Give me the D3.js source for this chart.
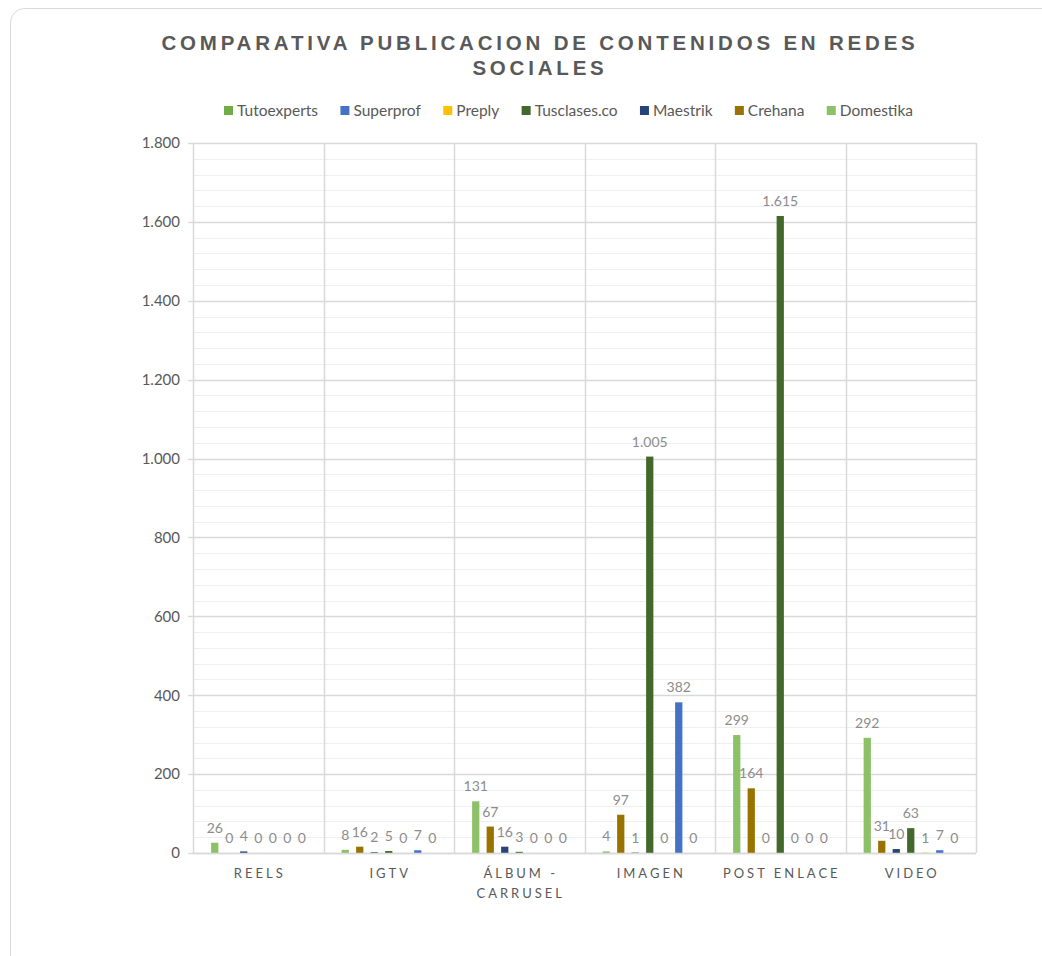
<!DOCTYPE html>
<html>
<head>
<meta charset="utf-8">
<script src="https://cdn.jsdelivr.net/npm/d3@7"></script>
<style>
  body { margin: 0; background: #fff; }
</style>
</head>
<body>
<div id="chart"></div>
<script>
// categories and series (order of the bars inside each group)
var categories = ["REELS", "IGTV", "ÁLBUM - CARRUSEL", "IMAGEN", "POST ENLACE", "VIDEO"];
var legendOrder = ["Tutoexperts", "Superprof", "Preply", "Tusclases.co", "Maestrik", "Crehana", "Domestika"];
var barOrder = ["Domestika", "Crehana", "Maestrik", "Tusclases.co", "Preply", "Superprof", "Tutoexperts"];
var colors = {
  "Tutoexperts": "#70AD47", "Superprof": "#4472C4", "Preply": "#FFC000",
  "Tusclases.co": "#43682B", "Maestrik": "#264478", "Crehana": "#997300", "Domestika": "#8CC168"
};
// values per category, same order as categories
var domestika   = [26, 8, 131, 4, 299, 292];
var crehana     = [0, 16, 67, 97, 164, 31];
var maestrik    = [4, 2, 16, 1, 0, 10];
var tusclases   = [0, 5, 3, 1005, 1615, 63];
var preply      = [0, 0, 0, 0, 0, 1];
var superprof   = [0, 7, 0, 382, 0, 7];
var tutoexperts = [0, 0, 0, 0, 0, 0];
var yTicks = [0, 200, 400, 600, 800, 1000, 1200, 1400, 1600, 1800];

var series = {
  "Domestika": domestika, "Crehana": crehana, "Maestrik": maestrik, "Tusclases.co": tusclases,
  "Preply": preply, "Superprof": superprof, "Tutoexperts": tutoexperts
};

var W = 1042, H = 956;
var margin = {top: 143, left: 193, right: 66, bottom: 103};
var width = W - margin.left - margin.right;
var height = H - margin.top - margin.bottom;

var locale = d3.formatLocale({decimal: ",", thousands: ".", grouping: [3], currency: ["", "€"]});
var fmt = locale.format(",d");

var root = d3.select("#chart").append("svg").attr("width", W).attr("height", H);

// card border
root.append("rect")
    .attr("x", 10.5).attr("y", 8.5)
    .attr("width", W + 20).attr("height", H + 20)
    .attr("rx", 14)
    .attr("fill", "#fff").attr("stroke", "#d9d9d9");

// title
var title = root.append("text")
    .attr("text-anchor", "middle")
    .style("font-family", "'Liberation Sans', Arial, sans-serif")
    .style("font-weight", "bold")
    .style("font-size", "20.5px")
    .style("letter-spacing", "3.8px")
    .attr("fill", "#595959");
title.append("tspan").attr("x", 540).attr("y", 50).text("COMPARATIVA PUBLICACION DE CONTENIDOS EN REDES");
title.append("tspan").attr("x", 540).attr("y", 75).text("SOCIALES");

var svg = root.append("g").attr("transform", "translate(" + margin.left + "," + margin.top + ")");

var x0 = d3.scaleBand().domain(categories).range([0, width]);
var x1 = d3.scaleBand().domain(barOrder).range([0, x0.bandwidth()])
    .paddingInner(0.5).paddingOuter(1.25);
var y = d3.scaleLinear().domain([0, 1800]).range([height, 0]);

// minor gridlines every 40
var minor = d3.range(0, 1801, 40).filter(function(v) { return v % 200 !== 0; });
svg.selectAll(".minor").data(minor).enter().append("line")
    .attr("x1", 0).attr("x2", width)
    .attr("y1", function(d) { return Math.round(y(d)) + 0.5; })
    .attr("y2", function(d) { return Math.round(y(d)) + 0.5; })
    .attr("stroke", "#efefef");

// major gridlines
svg.selectAll(".major").data(yTicks).enter().append("line")
    .attr("x1", -5).attr("x2", width)
    .attr("y1", function(d) { return Math.round(y(d)) + 0.5; })
    .attr("y2", function(d) { return Math.round(y(d)) + 0.5; })
    .attr("stroke", "#d9d9d9").attr("stroke-width", 1.5);

// vertical category lines
var bounds = categories.map(function(c) { return x0(c); }).concat([width]);
svg.selectAll(".vline").data(bounds).enter().append("line")
    .attr("x1", function(d) { return Math.round(d) + 0.5; })
    .attr("x2", function(d) { return Math.round(d) + 0.5; })
    .attr("y1", 0).attr("y2", height)
    .attr("stroke", "#d9d9d9").attr("stroke-width", 1.5);

// y axis labels
var yAxis = svg.append("g")
    .call(d3.axisLeft(y).tickValues(yTicks).tickFormat(fmt).tickSize(0).tickPadding(13));
yAxis.select(".domain").remove();
yAxis.selectAll("text")
    .style("font-family", "Lato").style("font-size", "15px").attr("fill", "#595959");

// x axis labels
var xAxis = svg.append("g")
    .attr("transform", "translate(0," + height + ")")
    .call(d3.axisBottom(x0).tickSize(0).tickPadding(0));
xAxis.select(".domain").remove();
xAxis.selectAll("text").remove();
xAxis.selectAll(".tick").each(function(d) {
  var t = d3.select(this).append("text")
      .attr("text-anchor", "middle")
      .style("font-family", "Lato").style("font-size", "13px")
      .style("letter-spacing", "3px")
      .attr("fill", "#595959");
  var lines = d === "ÁLBUM - CARRUSEL" ? ["ÁLBUM -", "CARRUSEL"] : [d];
  lines.forEach(function(l, i) {
    t.append("tspan").attr("x", 1.5).attr("y", 25 + i * 20).text(l);
  });
});

// bars
var groups = svg.selectAll(".grp").data(categories).enter().append("g")
    .attr("transform", function(c) { return "translate(" + x0(c) + ",0)"; });

groups.selectAll("rect")
    .data(function(c, i) { return barOrder.map(function(s) { return {s: s, v: series[s][i]}; }); })
    .enter().append("rect")
      .attr("x", function(d) { return x1(d.s); })
      .attr("width", x1.bandwidth())
      .attr("y", function(d) { return y(d.v); })
      .attr("height", function(d) { return height - y(d.v); })
      .attr("fill", function(d) { return colors[d.s]; });

groups.selectAll(".lbl")
    .data(function(c, i) { return barOrder.map(function(s) { return {s: s, v: series[s][i]}; }); })
    .enter().append("text")
      .attr("text-anchor", "middle")
      .attr("x", function(d) { return x1(d.s) + x1.bandwidth() / 2; })
      .attr("y", function(d) { return y(d.v) - 10; })
      .style("font-family", "Lato").style("font-size", "14px")
      .attr("fill", "#8c8c8c")
      .text(function(d) { return fmt(d.v); });

// x axis line
svg.append("line")
    .attr("x1", 0).attr("x2", width)
    .attr("y1", height + 0.5).attr("y2", height + 0.5)
    .attr("stroke", "#d9d9d9").attr("stroke-width", 1.5);

// legend
var legend = root.append("g").attr("transform", "translate(0,111)");
var items = legend.selectAll("g").data(legendOrder).enter().append("g");
items.append("rect").attr("y", -5).attr("width", 9).attr("height", 9)
    .attr("fill", function(d) { return colors[d]; });
items.append("text").attr("x", 13).attr("y", 5)
    .style("font-family", "Lato").style("font-size", "15.5px").attr("fill", "#595959")
    .text(function(d) { return d; });
var widths = [];
items.each(function() { widths.push(13 + this.querySelector("text").getComputedTextLength()); });
var legendLeft = 224, legendRight = 913;
var gap = (legendRight - legendLeft - d3.sum(widths)) / (widths.length - 1);
var pos = legendLeft, offsets = [];
widths.forEach(function(w) { offsets.push(pos); pos += w + gap; });
items.attr("transform", function(d, i) { return "translate(" + offsets[i] + ",0)"; });
</script>
</body>
</html>
